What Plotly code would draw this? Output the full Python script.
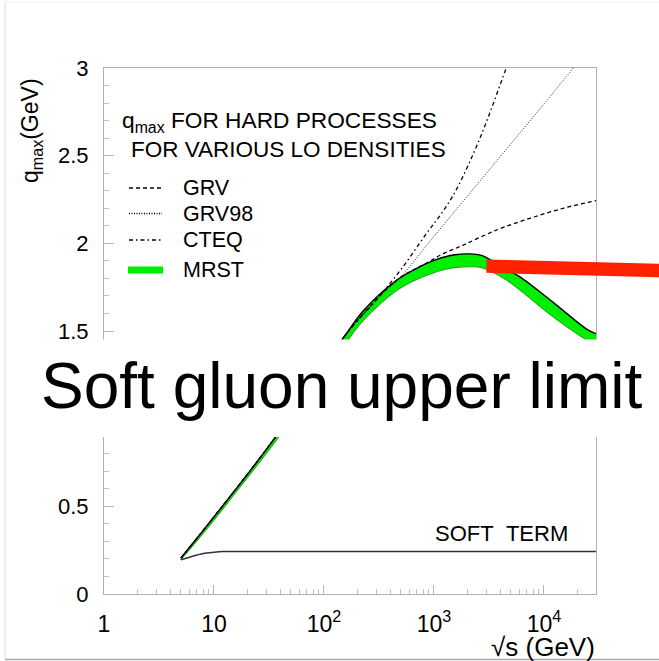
import math
import plotly.graph_objects as go

# sqrt(s) in GeV for the MRST band (upper / lower edge of q_max)
mrst_x = [5, 7, 10, 15, 20, 38, 80, 160, 230, 470, 750, 950, 1170, 1550,
          2050, 2700, 4300, 6000, 12200, 24400, 29700]
mrst_upper = [0.205, 0.318, 0.44, 0.58, 0.68, 0.913, 1.21, 1.485, 1.618, 1.795,
              1.868, 1.897, 1.918, 1.935, 1.94, 1.931, 1.86, 1.81, 1.662, 1.511, 1.485]
mrst_lower = [0.195, 0.302, 0.42, 0.56, 0.66, 0.887, 1.17, 1.435, 1.562, 1.735,
              1.802, 1.827, 1.846, 1.861, 1.866, 1.861, 1.80, 1.734, 1.578, 1.449, 1.425]

# GRV (dashed)
grv_x = [5, 10, 38, 160, 470, 750, 920, 1135, 1846, 3715, 7460, 14970, 29700]
grv_y = [0.205, 0.44, 0.913, 1.485, 1.795, 1.868, 1.898, 1.932, 1.99, 2.076, 2.143, 2.20, 2.244]

# GRV98 (dotted)
grv98_x = [5, 10, 38, 160, 372, 470, 1000, 3000, 10000, 18500]
grv98_y = [0.205, 0.44, 0.913, 1.485, 1.737, 1.79, 2.04, 2.40, 2.795, 3.0]

# CTEQ (dash-dot)
cteq_x = [5, 10, 38, 160, 281, 500, 859, 1200, 1608, 2620, 4420, 4600]
cteq_y = [0.205, 0.44, 0.913, 1.485, 1.658, 1.85, 2.058, 2.18, 2.31, 2.60, 2.98, 3.01]

# soft term
soft_x = [5, 6, 7, 8, 10, 12, 15, 29700]
soft_y = [0.195, 0.21, 0.222, 0.231, 0.238, 0.242, 0.243, 0.243]

# soft gluon upper limit marker: start point (GeV, q_max) and level at the far right
limit_start = (3000, 1.87)
limit_end_y = 1.845

x_ticks = [1, 10, 100, 1000, 10000]
x_ticktext = ["1", "10", "10<sup>2</sup>", "10<sup>3</sup>", "10<sup>4</sup>"]
x_minor = [m * 10 ** d for d in range(0, 5) for m in range(2, 10) if m * 10 ** d < 29700]
y_ticks = [0, 0.5, 1, 1.5, 2, 2.5, 3]
y_ticktext = ["0", "0.5", "1", "1.5", "2", "2.5", "3"]

legend_names = ["GRV", "GRV98", "CTEQ", "MRST"]

W, H = 659, 661
L, R, T, B = 104, 63, 68, 67
XMAX_LOG = 4.473
YMAX = 3.0
FONT = "Liberation Sans, Arial, Helvetica, sans-serif"


def px(xp):
    return (xp - L) / (W - L - R)


def py(yp):
    return (H - B - yp) / (H - T - B)


def xpaper(gev):
    return math.log10(gev) / XMAX_LOG


def ypaper(v):
    return v / YMAX


fig = go.Figure()

fig.add_trace(go.Scatter(x=mrst_x, y=mrst_lower, mode="lines", line_shape="spline",
                         line=dict(color="#0a8a0a", width=0.8), hoverinfo="skip"))
fig.add_trace(go.Scatter(x=mrst_x, y=mrst_upper, mode="lines", fill="tonexty",
                         line_shape="spline", fillcolor="#00ee00",
                         line=dict(color="black", width=1.4)))

fig.add_trace(go.Scatter(x=grv_x, y=grv_y, mode="lines", line_shape="spline",
                         line=dict(color="black", width=1.3, dash="4px,3px")))
fig.add_trace(go.Scatter(x=grv98_x, y=grv98_y, mode="lines", line_shape="spline",
                         line=dict(color="#222", width=1.0, dash="1px,1.5px")))
fig.add_trace(go.Scatter(x=cteq_x, y=cteq_y, mode="lines", line_shape="spline",
                         line=dict(color="black", width=1.3, dash="4px,3px,1.5px,3px")))
fig.add_trace(go.Scatter(x=soft_x, y=soft_y, mode="lines", line_shape="spline",
                         line=dict(color="#333", width=1.5)))

shapes = []
annotations = []

# legend samples and labels
legend_y = [188, 213.5, 240, 270]
dashes = ["4px,3px", "1px,1.5px", "4px,3px,1.5px,3px"]
for name, yy, d in zip(legend_names[:3], legend_y[:3], dashes):
    shapes.append(dict(type="line", xref="paper", yref="paper",
                       x0=px(129), x1=px(162), y0=py(yy), y1=py(yy),
                       line=dict(color="black", width=1.3, dash=d)))
shapes.append(dict(type="line", xref="paper", yref="paper",
                   x0=px(128), x1=px(163), y0=py(legend_y[3]), y1=py(legend_y[3]),
                   line=dict(color="#00ee00", width=7)))
for name, yy in zip(legend_names, legend_y):
    annotations.append(dict(text=name, xref="paper", yref="paper", x=px(181), y=py(yy),
                            xanchor="left", yanchor="middle", showarrow=False,
                            font=dict(size=21.5, color="black", family=FONT)))

annotations.append(dict(text="q<sub>max</sub> FOR HARD PROCESSES", xref="paper", yref="paper",
                        x=px(120), y=py(121), xanchor="left", yanchor="middle", showarrow=False,
                        font=dict(size=22.7, color="black", family=FONT)))
annotations.append(dict(text="FOR VARIOUS LO DENSITIES", xref="paper", yref="paper",
                        x=px(129), y=py(149), xanchor="left", yanchor="middle", showarrow=False,
                        font=dict(size=22.5, color="black", family=FONT)))
annotations.append(dict(text="SOFT\u00a0\u00a0TERM", xref="paper", yref="paper",
                        x=px(570), y=py(533), xanchor="right", yanchor="middle", showarrow=False,
                        font=dict(size=22, color="black", family=FONT)))

# axis titles
annotations.append(dict(text="q<sub>max</sub>(GeV)", xref="paper", yref="paper",
                        x=px(31), y=py(131), textangle=-90, xanchor="center", yanchor="middle",
                        showarrow=False, font=dict(size=23, color="black", family=FONT)))
annotations.append(dict(text="\u221as (GeV)", xref="paper", yref="paper",
                        x=px(597), y=py(647), xanchor="right", yanchor="middle",
                        showarrow=False, font=dict(size=26, color="black", family=FONT)))

# upper-limit marker
shapes.append(dict(type="line", xref="paper", yref="paper",
                   x0=xpaper(limit_start[0]), y0=ypaper(limit_start[1]),
                   x1=px(664), y1=ypaper(limit_end_y),
                   line=dict(color="#ff2200", width=13.5)))

# page border
shapes.append(dict(type="line", xref="paper", yref="paper", x0=px(5), x1=px(5),
                   y0=py(2), y1=py(659), line=dict(color="#dddddd", width=1), layer="above"))
shapes.append(dict(type="line", xref="paper", yref="paper", x0=px(5), x1=px(670),
                   y0=py(2), y1=py(2), line=dict(color="#eeeeee", width=1), layer="above"))
shapes.append(dict(type="line", xref="paper", yref="paper", x0=px(5), x1=px(670),
                   y0=py(659.5), y1=py(659.5), line=dict(color="#a8a8a8", width=1.5), layer="above"))

# caption banner across the middle
shapes.append(dict(type="rect", xref="paper", yref="paper", x0=px(6), x1=px(670),
                   y0=py(437), y1=py(339.5), fillcolor="white", line=dict(width=0),
                   layer="above"))
annotations.append(dict(text="Soft gluon upper limit", xref="paper", yref="paper",
                        x=px(341.5), y=py(386), xanchor="center", yanchor="middle",
                        showarrow=False, font=dict(size=64, color="black", family=FONT)))

fig.update_layout(
    width=W, height=H,
    margin=dict(l=L, r=R, t=T, b=B),
    paper_bgcolor="white", plot_bgcolor="white",
    showlegend=False,
    font=dict(family=FONT, color="black"),
    shapes=shapes, annotations=annotations,
    xaxis=dict(type="log", range=[0, XMAX_LOG], tickmode="array", tickvals=x_ticks,
               ticktext=x_ticktext, ticks="inside", ticklen=9, tickwidth=1,
               tickcolor="#b5b5b5", showline=True, linecolor="#b0b0b0", linewidth=1,
               mirror=True, showgrid=False, zeroline=False,
               tickfont=dict(size=23, color="black", family=FONT), ticklabelstandoff=9,
               minor=dict(tickmode="array", tickvals=x_minor, ticks="inside", ticklen=5,
                          tickcolor="#c0c0c0", showgrid=False)),
    yaxis=dict(range=[0, YMAX], tickmode="array", tickvals=y_ticks, ticktext=y_ticktext,
               ticks="inside", ticklen=10, tickwidth=1, tickcolor="#b5b5b5",
               showline=True, linecolor="#b0b0b0", linewidth=1, mirror=True,
               showgrid=False, zeroline=False,
               tickfont=dict(size=22, color="black", family=FONT), ticklabelstandoff=10,
               minor=dict(ticks="inside", ticklen=5, tickcolor="#c0c0c0", dtick=0.1,
                          showgrid=False)),
)

fig.write_html("out.html")
